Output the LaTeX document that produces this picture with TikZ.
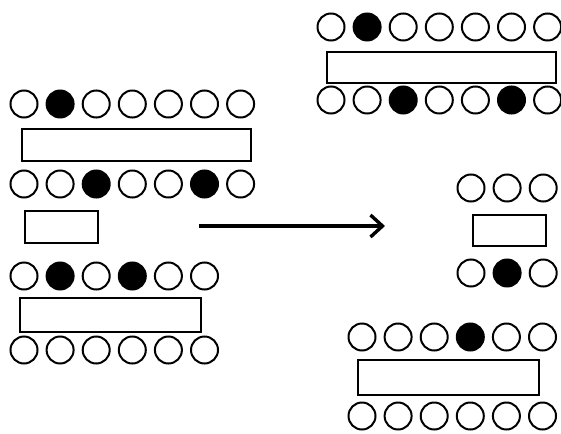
\documentclass[tikz,border=0pt]{standalone}
\usetikzlibrary{arrows.meta}
\tikzset{
  ball0/.style={circle,draw,line width=2pt,minimum size=27pt,inner sep=0pt},
  ball1/.style={ball0,fill=black},
  bar/.style={rectangle,draw,line width=2.2pt,inner sep=0pt},
}
\newcommand\ballrow[4]{%
  \foreach \f [count=\i] in {#4}{
    \node[ball\f] (#1\i) at ({#2+(\i-1)*36.1},#3) {};
  }%
}
\begin{document}
\begin{tikzpicture}[x=1pt,y=-1pt]
\useasboundingbox (0,0) rectangle (561,433);
% left group
\ballrow{La}{24}{104}{0,1,0,0,0,0,0}
\node[bar,minimum width=229pt,minimum height=32pt] (Lb1) at (136.5,145) {};
\ballrow{Lb}{24}{184}{0,0,1,0,0,1,0}
\node[bar,minimum width=73pt,minimum height=32pt] (Lb2) at (61.5,227) {};
\ballrow{Lc}{24}{276}{0,1,0,1,0,0}
\node[bar,minimum width=181pt,minimum height=34pt] (Lb3) at (110.5,315) {};
\ballrow{Ld}{24}{350}{0,0,0,0,0,0}
% right group
\ballrow{Ra}{331}{27}{0,1,0,0,0,0,0}
\node[bar,minimum width=229pt,minimum height=31pt] (Rb1) at (441.5,67.5) {};
\ballrow{Rb}{331}{100}{0,0,1,0,0,1,0}
\ballrow{Rc}{471}{188}{0,0,0}
\node[bar,minimum width=73pt,minimum height=31pt] (Rb2) at (509.5,230.5) {};
\ballrow{Rd}{471}{273}{0,1,0}
\ballrow{Re}{362}{337}{0,0,0,1,0,0}
\node[bar,minimum width=181pt,minimum height=35pt] (Rb3) at (448.5,377.5) {};
\ballrow{Rf}{362}{416}{0,0,0,0,0,0}
% arrow
\coordinate (A1) at (199,226);
\coordinate (A2) at (385,226);
\draw[line width=3.4pt,-{Straight Barb[length=12pt,width=22pt,line width=3.4pt]}] (A1) -- (A2);
\end{tikzpicture}
\end{document}
